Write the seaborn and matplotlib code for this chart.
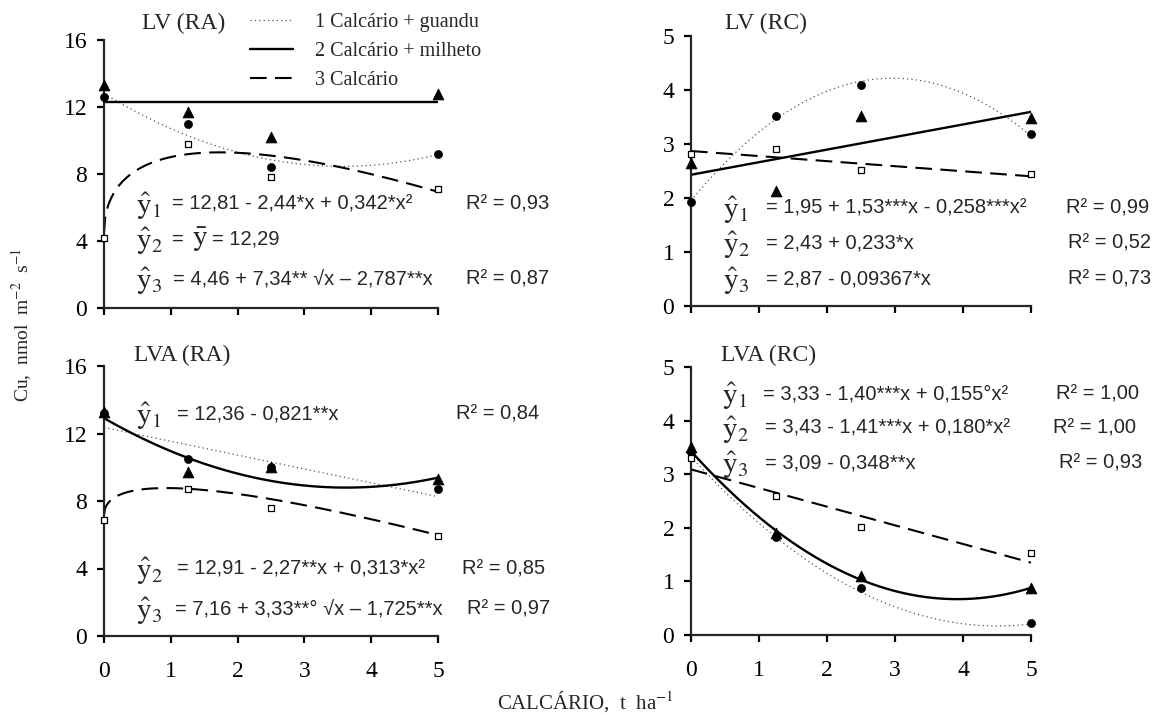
import matplotlib
matplotlib.use("Agg")
import matplotlib.pyplot as plt
from matplotlib.lines import Line2D
import numpy as np
import pandas as pd
import seaborn as sns

W, H = 1168, 722

doses = [0, 1.25, 2.5, 5]
treatments = ["1 Calcário + guandu", "2 Calcário + milheto", "3 Calcário"]

# LV (RA)
lv_ra_guandu = [12.6, 11.0, 8.4, 9.2]
lv_ra_milheto = [13.3, 11.7, 10.2, 12.8]
lv_ra_calcario = [4.2, 9.8, 7.8, 7.1]
# LV (RC)
lv_rc_guandu = [1.93, 3.52, 4.09, 3.19]
lv_rc_milheto = [2.65, 2.13, 3.52, 3.49]
lv_rc_calcario = [2.81, 2.91, 2.51, 2.44]
# LVA (RA)
lva_ra_guandu = [13.2, 10.5, 10.0, 8.7]
lva_ra_milheto = [13.3, 9.7, 10.0, 9.3]
lva_ra_calcario = [6.9, 8.7, 7.6, 5.95]
# LVA (RC)
lva_rc_guandu = [3.42, 1.82, 0.87, 0.22]
lva_rc_milheto = [3.50, 1.91, 1.11, 0.87]
lva_rc_calcario = [3.31, 2.60, 2.02, 1.53]

# fitted equations printed on the chart
# ("poly", b0, b1, b2): b0 + b1*x + b2*x^2   ("sqrt", b0, b1, b2): b0 + b1*sqrt(x) + b2*x
lv_ra_fits = [("poly", 12.81, -2.44, 0.342), ("poly", 12.29, 0, 0), ("sqrt", 4.46, 7.34, -2.787)]
lv_rc_fits = [("poly", 1.95, 1.53, -0.258), ("poly", 2.43, 0.233, 0), ("poly", 2.87, -0.09367, 0)]
lva_ra_fits = [("poly", 12.36, -0.821, 0), ("poly", 12.91, -2.27, 0.313), ("sqrt", 7.16, 3.33, -1.725)]
lva_rc_fits = [("poly", 3.33, -1.40, 0.155), ("poly", 3.43, -1.41, 0.180), ("poly", 3.09, -0.348, 0)]

lv_ra_eqs = ["= 12,81 - 2,44*x + 0,342*x²", "=", "= 4,46 + 7,34** √x – 2,787**x"]
lv_ra_r2 = ["R² = 0,93", "", "R² = 0,87"]
lv_rc_eqs = ["= 1,95 + 1,53***x - 0,258***x²", "= 2,43 + 0,233*x", "= 2,87 - 0,09367*x"]
lv_rc_r2 = ["R² = 0,99", "R² = 0,52", "R² = 0,73"]
lva_ra_eqs = ["= 12,36 - 0,821**x", "= 12,91 - 2,27**x + 0,313*x²", "= 7,16 + 3,33**° √x – 1,725**x"]
lva_ra_r2 = ["R² = 0,84", "R² = 0,85", "R² = 0,97"]
lva_rc_eqs = ["= 3,33 - 1,40***x + 0,155°x²", "= 3,43 - 1,41***x + 0,180*x²", "= 3,09 - 0,348**x"]
lva_rc_r2 = ["R² = 1,00", "R² = 1,00", "R² = 0,93"]

EQ_SIZE = 14.5


def px(x, y):
    return x / W, 1 - y / H


def model(fit, x):
    kind, b0, b1, b2 = fit
    if kind == "poly":
        return b0 + b1 * x + b2 * x ** 2
    return b0 + b1 * np.sqrt(x) + b2 * x


line_styles = [
    dict(color="#555555", linewidth=0.9, linestyle=(0, (1, 2.5))),
    dict(color="black", linewidth=1.7, linestyle="-"),
    dict(color="black", linewidth=1.5, linestyle=(0, (8, 4))),
]
marker_styles = [
    dict(marker="o", s=34, color="black", edgecolor="black"),
    dict(marker="^", s=60, color="black", edgecolor="black"),
    dict(marker="s", s=20, facecolor="white", edgecolor="black", linewidth=0.9),
]


def main():
    sns.set_style("ticks")
    plt.rcParams["font.family"] = ["Liberation Serif", "DejaVu Serif"]
    plt.rcParams["mathtext.fontset"] = "stix"

    fig = plt.figure(figsize=(W / 100, H / 100), dpi=100)

    panels = [
        dict(title="LV (RA)", tpos=(142, 23), rect=(104, 40, 438, 308), ymax=16, yticks=[0, 4, 8, 12, 16],
             series=[lv_ra_guandu, lv_ra_milheto, lv_ra_calcario], fits=lv_ra_fits,
             eqs=lv_ra_eqs, r2=lv_ra_r2, xlabels=False,
             hat_x=136, eq_x=[172, 172, 173], r2_x=[466, 466, 466], rows=[204, 239, 279]),
        dict(title="LV (RC)", tpos=(725, 23), rect=(691, 36, 1031, 306), ymax=5, yticks=[0, 1, 2, 3, 4, 5],
             series=[lv_rc_guandu, lv_rc_milheto, lv_rc_calcario], fits=lv_rc_fits,
             eqs=lv_rc_eqs, r2=lv_rc_r2, xlabels=False,
             hat_x=723, eq_x=[766, 766, 766], r2_x=[1066, 1068, 1068], rows=[208, 243, 279]),
        dict(title="LVA (RA)", tpos=(134, 355), rect=(104, 366, 438, 636), ymax=16, yticks=[0, 4, 8, 12, 16],
             series=[lva_ra_guandu, lva_ra_milheto, lva_ra_calcario], fits=lva_ra_fits,
             eqs=lva_ra_eqs, r2=lva_ra_r2, xlabels=True,
             hat_x=136, eq_x=[177, 177, 175], r2_x=[456, 462, 467], rows=[414, 569, 609]),
        dict(title="LVA (RC)", tpos=(721, 355), rect=(691, 367, 1031, 635), ymax=5, yticks=[0, 1, 2, 3, 4, 5],
             series=[lva_rc_guandu, lva_rc_milheto, lva_rc_calcario], fits=lva_rc_fits,
             eqs=lva_rc_eqs, r2=lva_rc_r2, xlabels=True,
             hat_x=722, eq_x=[763, 765, 765], r2_x=[1056, 1053, 1059], rows=[394, 428, 463]),
    ]

    xs = np.linspace(0, 5, 300)
    for p in panels:
        x0, y0, x1, y1 = p["rect"]
        ax = fig.add_axes([x0 / W, 1 - y1 / H, (x1 - x0) / W, (y1 - y0) / H])
        ax.set_facecolor("white")

        for i, (vals, fit) in enumerate(zip(p["series"], p["fits"])):
            curve = pd.DataFrame({"x": xs, "y": model(fit, xs)})
            sns.lineplot(data=curve, x="x", y="y", ax=ax, **line_styles[i])
        for i in [0, 2, 1]:
            pts = pd.DataFrame({"x": doses, "y": p["series"][i]})
            sns.scatterplot(data=pts, x="x", y="y", ax=ax, clip_on=False, zorder=5, **marker_styles[i])

        ax.set_xlim(0, 5)
        ax.set_ylim(0, p["ymax"])
        ax.set_xticks([0, 1, 2, 3, 4, 5])
        ax.set_yticks(p["yticks"])
        ax.set_xlabel("")
        ax.set_ylabel("")
        for side in ["top", "right"]:
            ax.spines[side].set_visible(False)
        for side in ["left", "bottom"]:
            ax.spines[side].set_linewidth(1.6)
        ax.tick_params(direction="out", length=5, width=1.6, labelsize=17, colors="black")
        ax.tick_params(axis="y", pad=7)
        ax.tick_params(axis="x", pad=13, labelbottom=p["xlabels"])

        fig.text(*px(*p["tpos"]), p["title"], fontsize=17, va="center", ha="left")

        for k in range(3):
            yrow = p["rows"][k]
            fig.text(*px(p["hat_x"], yrow + 2), r"$\hat{\mathrm{y}}_%d$" % (k + 1), fontsize=21,
                     va="center", ha="left")
            fig.text(*px(p["eq_x"][k], yrow), p["eqs"][k], fontsize=EQ_SIZE, family="Liberation Sans",
                     va="center", ha="left")
            if p["r2"][k]:
                fig.text(*px(p["r2_x"][k], yrow), p["r2"][k], fontsize=EQ_SIZE, family="Liberation Sans",
                         va="center", ha="left")

    # y-bar mean for LV (RA)
    fig.text(*px(192, 240), r"$\bar{\mathrm{y}}$", fontsize=21, va="center", ha="left")
    fig.text(*px(212, 239), "= 12,29", fontsize=EQ_SIZE, family="Liberation Sans", va="center", ha="left")

    handles = [Line2D([], [], **line_styles[i]) for i in range(3)]
    fig.legend(handles, treatments, loc="upper left", bbox_to_anchor=px(250, 13), frameon=False,
               fontsize=14.5, handlelength=2.15, handletextpad=1.1, labelspacing=0.5, borderpad=0,
               borderaxespad=0)

    fig.text(*px(22, 325), r"Cu,  nmol  m$^{-2}$  s$^{-1}$", rotation=90, fontsize=14,
             va="center", ha="center")
    fig.text(*px(585, 702), r"CALCÁRIO,  t  ha$^{-1}$", fontsize=15, va="center", ha="center")

    fig.savefig("out.png", dpi=100, facecolor="white")
    plt.close(fig)


if __name__ == "__main__":
    main()
